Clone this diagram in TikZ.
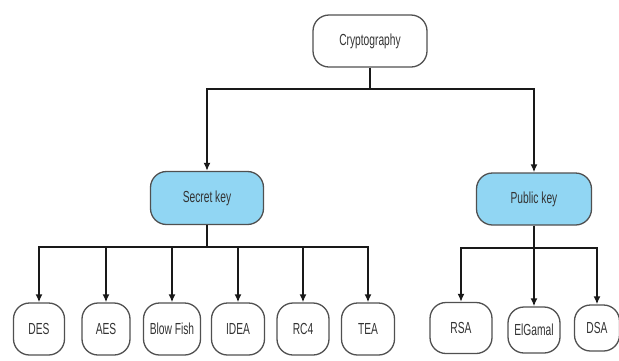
\documentclass[tikz,border=0pt]{standalone}
\usepackage{fontspec}
\setmainfont[FakeStretch=0.64]{Liberation Sans}
\usetikzlibrary{arrows.meta}
\definecolor{keyblue}{RGB}{145,214,243}
\definecolor{edgegray}{RGB}{80,80,80}
\tikzset{
  box/.style={draw=edgegray, line width=1.3pt, rounded corners=16pt, fill=white,
    inner sep=0pt, text=black!80, font=\fontsize{16}{16}\selectfont},
  keybox/.style={box, fill=keyblue},
  conn/.style={line width=2.8pt, draw=black!90, -{Latex[length=8pt,width=7pt]}},
  bar/.style={line width=2.8pt, draw=black!90}
}
\begin{document}
\begin{tikzpicture}[x=1pt,y=-1pt]
\useasboundingbox (0,0) rectangle (619,360);
\fill[white] (0,0) rectangle (619,360);
% nodes
\node[box, minimum width=114pt, minimum height=52pt] (crypto) at (370,41) {Cryptography};
\node[keybox, minimum width=113pt, minimum height=53pt] (secret) at (207,198) {Secret key};
\node[keybox, minimum width=115pt, minimum height=52pt] (public) at (534,199) {Public key};
\node[box, minimum width=51pt, minimum height=52pt] (des) at (39,329) {DES};
\node[box, minimum width=48pt, minimum height=52pt] (aes) at (106,329) {AES};
\node[box, minimum width=57pt, minimum height=52pt] (blow) at (172,329) {Blow Fish};
\node[box, minimum width=53pt, minimum height=52pt] (idea) at (238,329) {IDEA};
\node[box, minimum width=52pt, minimum height=52pt] (rc4) at (303,329) {RC4};
\node[box, minimum width=53pt, minimum height=52pt] (tea) at (368,329) {TEA};
\node[box, minimum width=62pt, minimum height=51pt] (rsa) at (461,328) {RSA};
\node[box, minimum width=52pt, minimum height=46pt] (elg) at (534,330) {ElGamal};
\node[box, minimum width=45pt, minimum height=46pt] (dsa) at (597,328) {DSA};
% bar coordinates
\coordinate (b0) at (370,89);
\coordinate (b1) at (207,247);
\coordinate (b2) at (534,248);
% connectors
\draw[bar] (crypto.south) -- (b0);
\draw[conn] (b0) -| (secret.north);
\draw[conn] (b0) -| (public.north);
\draw[bar] (secret.south) -- (b1);
\foreach \n in {des,aes,blow,idea,rc4,tea} { \draw[conn] (b1) -| (\n.north); }
\draw[bar] (public.south) -- (b2);
\foreach \n in {rsa,elg,dsa} { \draw[conn] (b2) -| (\n.north); }
\end{tikzpicture}
\end{document}
